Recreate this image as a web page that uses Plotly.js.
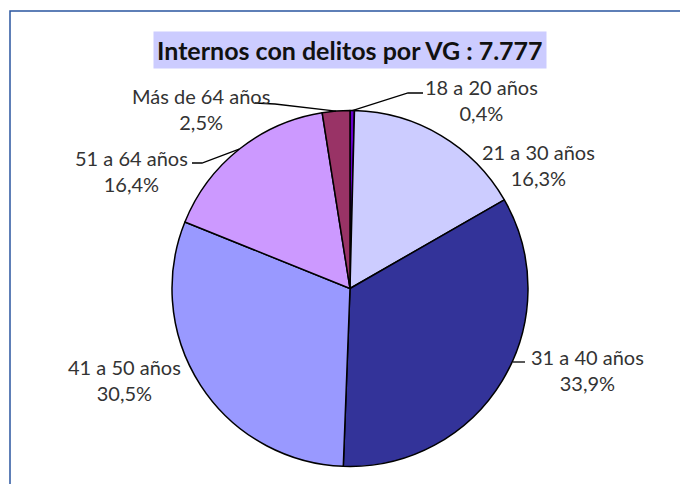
<!DOCTYPE html>
<html>
<head>
<meta charset="utf-8">
<script src="https://cdn.plot.ly/plotly-3.0.1.min.js"></script>
<style>html,body{margin:0;padding:0;background:#fff;}#chart{width:680px;height:484px;}</style>
</head>
<body>
<div id="chart"></div>
<script>
// ---- data ----
const categories = ['18 a 20 años', '21 a 30 años', '31 a 40 años', '41 a 50 años', '51 a 64 años', 'Más de 64 años'];
const percents = [0.4, 16.3, 33.9, 30.5, 16.4, 2.5];
const sliceColors = ['#6600CC', '#CCCCFF', '#333399', '#9999FF', '#CC99FF', '#993366'];
const totalInternos = '7.777';
const titleText = 'Internos con delitos por VG : ' + totalInternos;

// ---- layout helpers (pixel -> paper) ----
const W = 680, H = 484;
const px = (x, y) => [x / W, 1 - y / H];
const pieCx = 350, pieCy = 288.5, pieR = 178;

// label block centres (layout only)
const labelPos = [[481, 100], [538, 165], [587, 370], [124, 380], [131, 171], [201, 109]];

const fmt = v => v.toFixed(1).replace('.', ',') + '%';

// slice mid angles from the data
const tot = percents.reduce((a, b) => a + b, 0);
let cum = 0;
const midAng = percents.map(v => { const a = (cum + v / 2) / tot * 2 * Math.PI; cum += v; return a; });
const edgePt = i => [pieCx + pieR * Math.sin(midAng[i]), pieCy - pieR * Math.cos(midAng[i])];

const annotations = categories.map((c, i) => {
  const p = px(labelPos[i][0], labelPos[i][1]);
  return {
    xref: 'paper', yref: 'paper', x: p[0], y: p[1], xanchor: 'center', yanchor: 'middle',
    text: c + '<br>' + fmt(percents[i]), showarrow: false, align: 'center',
    font: {family: 'Lato, "Open Sans", sans-serif', size: 20, color: '#333333'}
  };
});
const tp = px(350.5, 50);
annotations.push({
  xref: 'paper', yref: 'paper', x: tp[0], y: tp[1], xanchor: 'center', yanchor: 'middle',
  text: '<b>' + titleText + '</b>', showarrow: false, bgcolor: '#CCCCFF', borderpad: 3,
  font: {family: 'Lato, "Open Sans", sans-serif', size: 25, color: '#111111'}
});

function pathFrom(points) {
  return points.map((p, k) => { const q = px(p[0], p[1]); return (k ? 'L' : 'M') + q[0] + ',' + q[1]; }).join(' ');
}
const leaders = [
  [[423, 93], [408, 93], edgePt(0)],
  [[255, 103], [275, 104], edgePt(5)],
  [[192, 163], [202, 163], edgePt(4)],
  [[525, 362], [513, 362]]
];
const shapes = leaders.map(pts => ({
  type: 'path', xref: 'paper', yref: 'paper', path: pathFrom(pts),
  line: {color: '#000000', width: 1.3}
}));
const b0 = px(10, 11);
shapes.push({type: 'rect', xref: 'paper', yref: 'paper', x0: b0[0], y0: -0.05, x1: 1.05, y1: b0[1],
  line: {color: '#2a56a0', width: 1.5}});

const d0 = px(pieCx - pieR, pieCy + pieR), d1 = px(pieCx + pieR, pieCy - pieR);
const trace = {
  type: 'pie', labels: categories, values: percents, sort: false, direction: 'clockwise', rotation: 0,
  marker: {colors: sliceColors, line: {color: '#000000', width: 1.5}},
  textinfo: 'none', hoverinfo: 'label+percent',
  domain: {x: [d0[0], d1[0]], y: [d0[1], d1[1]]}
};

Plotly.newPlot('chart', [trace], {
  width: W, height: H, margin: {l: 0, r: 0, t: 0, b: 0}, showlegend: false,
  paper_bgcolor: '#ffffff', annotations: annotations, shapes: shapes
}, {displayModeBar: false, staticPlot: true});
</script>
</body>
</html>
